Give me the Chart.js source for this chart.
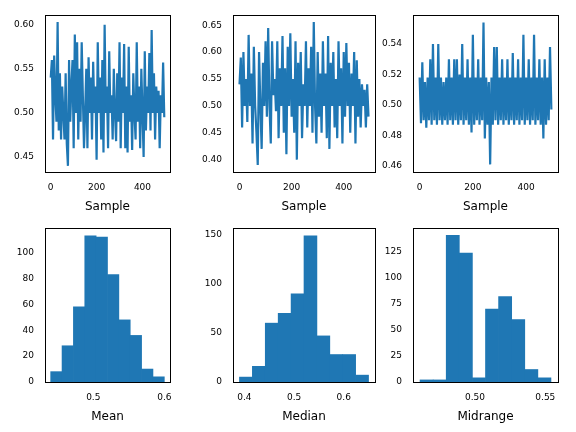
<!DOCTYPE html>
<html>
<head>
<meta charset="utf-8">
<script src="https://cdn.jsdelivr.net/npm/chart.js@4"></script>
<style>
  body { margin: 0; background: #fff; }
  #wrap { position: relative; width: 576px; height: 432px; }
  .cell { position: absolute; }
</style>
</head>
<body>
<div id="wrap"></div>
<script>
// sample series, one value every 5 samples (x = 0..495)
const meanSeries = [0.54,0.56,0.47,0.565,0.52,0.49,0.603,0.48,0.545,0.47,0.53,0.5,0.47,0.545,0.465,0.44,0.56,0.49,0.53,0.56,0.46,0.589,0.5,0.58,0.47,0.55,0.49,0.58,0.52,0.46,0.5,0.55,0.46,0.563,0.5,0.54,0.47,0.558,0.5,0.53,0.447,0.58,0.5,0.54,0.47,0.56,0.455,0.6,0.5,0.53,0.46,0.57,0.5,0.52,0.47,0.55,0.5,0.468,0.545,0.49,0.58,0.46,0.54,0.5,0.578,0.46,0.53,0.455,0.575,0.49,0.52,0.458,0.545,0.5,0.47,0.58,0.49,0.53,0.46,0.55,0.5,0.45,0.57,0.48,0.53,0.5,0.568,0.48,0.594,0.5,0.545,0.47,0.53,0.5,0.525,0.46,0.52,0.5,0.557,0.495];
const medianSeries = [0.54,0.59,0.46,0.6,0.5,0.55,0.47,0.632,0.5,0.56,0.43,0.61,0.5,0.45,0.39,0.6,0.5,0.42,0.58,0.5,0.62,0.48,0.645,0.5,0.43,0.62,0.52,0.55,0.49,0.62,0.44,0.57,0.5,0.63,0.45,0.57,0.41,0.61,0.5,0.635,0.48,0.55,0.45,0.62,0.4,0.58,0.5,0.6,0.44,0.54,0.5,0.62,0.46,0.57,0.5,0.61,0.45,0.656,0.5,0.43,0.6,0.48,0.56,0.45,0.62,0.5,0.56,0.44,0.63,0.42,0.58,0.5,0.6,0.46,0.55,0.44,0.62,0.5,0.57,0.43,0.6,0.48,0.617,0.5,0.58,0.45,0.56,0.5,0.6,0.43,0.585,0.48,0.55,0.46,0.54,0.5,0.53,0.46,0.54,0.48];
const midrangeSeries = [0.518,0.488,0.528,0.49,0.515,0.485,0.518,0.49,0.53,0.487,0.54,0.49,0.518,0.487,0.54,0.49,0.518,0.487,0.515,0.49,0.518,0.487,0.53,0.49,0.518,0.487,0.53,0.49,0.53,0.487,0.52,0.49,0.54,0.487,0.518,0.49,0.53,0.487,0.518,0.482,0.546,0.487,0.518,0.49,0.53,0.487,0.518,0.49,0.554,0.478,0.518,0.487,0.515,0.461,0.518,0.487,0.538,0.49,0.538,0.487,0.518,0.49,0.53,0.487,0.518,0.49,0.53,0.487,0.518,0.49,0.534,0.487,0.518,0.49,0.53,0.487,0.518,0.49,0.546,0.487,0.518,0.49,0.53,0.487,0.518,0.49,0.546,0.487,0.518,0.49,0.53,0.487,0.518,0.478,0.53,0.487,0.518,0.49,0.538,0.497];

// histograms: bin edges and counts
const meanEdges = [0.44,0.456,0.472,0.488,0.504,0.52,0.536,0.552,0.568,0.584,0.6];
const meanCounts = [8,28,58,113,112,83,48,36,10,4];
const medianEdges = [0.39,0.416,0.442,0.468,0.494,0.52,0.546,0.572,0.598,0.624,0.65];
const medianCounts = [5,16,60,70,90,149,47,28,28,7];
const midEdges = [0.461,0.4703,0.4796,0.4889,0.4982,0.5075,0.5168,0.5261,0.5354,0.5447,0.554];
const midCounts = [2,2,141,124,4,70,82,60,12,4];

const BLUE = "#1f77b4";
const FONT = "'DejaVu Sans', sans-serif";

const boxPlugin = {
  id: "box",
  afterDraw(chart) {
    const a = chart.chartArea, c = chart.ctx;
    c.save();
    c.strokeStyle = "#000";
    c.lineWidth = 1;
    c.strokeRect(Math.round(a.left) + 0.5, Math.round(a.top) + 0.5, Math.round(a.right - a.left), Math.round(a.bottom - a.top));
    c.restore();
  }
};

function makeCell(left, top, w, h) {
  const d = document.createElement("div");
  d.className = "cell";
  d.style.left = left + "px";
  d.style.top = top + "px";
  d.style.width = w + "px";
  d.style.height = h + "px";
  const cv = document.createElement("canvas");
  d.appendChild(cv);
  document.getElementById("wrap").appendChild(d);
  return cv;
}

function axes(xmin, xmax, xticks, ymin, ymax, yticks, title, yDigits, xDigits, xh) {
  return {
    x: {
      type: "linear", min: xmin, max: xmax, offset: false,
      grid: { display: false, offset: false }, border: { display: false },
      afterBuildTicks: s => { s.ticks = xticks.map(v => ({ value: v })); },
      afterFit: s => { s.height = xh; },
      ticks: { color: "#000", font: { family: FONT, size: 9 }, maxRotation: 0, padding: 2,
               callback: v => xDigits === null ? v : v.toFixed(xDigits) },
      title: { display: true, text: title, color: "#000", font: { family: FONT, size: 12 }, padding: 2 }
    },
    y: {
      min: ymin, max: ymax,
      grid: { display: false }, border: { display: false },
      afterBuildTicks: s => { s.ticks = yticks.map(v => ({ value: v })); },
      afterFit: s => { s.width = 45; },
      ticks: { color: "#000", font: { family: FONT, size: 9 }, padding: 3,
               callback: v => yDigits === null ? v : v.toFixed(yDigits) }
    }
  };
}

const common = {
  responsive: true, maintainAspectRatio: false, animation: false,
  plugins: { legend: { display: false }, tooltip: { enabled: false } }
};

const cols = [[0, 176], [188, 193], [368, 196]];

function lineChart(col, series, ymin, ymax, yticks) {
  const cv = makeCell(cols[col][0], 0, cols[col][1], 216);
  new Chart(cv, {
    type: "line",
    data: { datasets: [{ data: series.map((v, i) => ({ x: i * 5, y: v })), borderColor: BLUE,
      borderWidth: 2.2, pointRadius: 0, tension: 0 }] },
    options: Object.assign({}, common, {
      layout: { padding: { top: 15, right: 6, left: 0, bottom: 0 } },
      scales: axes(-25, 520, [0, 200, 400], ymin, ymax, yticks, "Sample", 2, null, 44)
    }),
    plugins: [boxPlugin]
  });
}

function histChart(col, edges, counts, xmin, xmax, xticks, xDigits, ymax, yticks, title) {
  const cv = makeCell(cols[col][0], 216, cols[col][1], 216);
  const pts = counts.map((c, i) => ({ x: (edges[i] + edges[i + 1]) / 2, y: c }));
  new Chart(cv, {
    type: "bar",
    data: { datasets: [{ data: pts, backgroundColor: BLUE, barPercentage: 1.0, categoryPercentage: 1.0 }] },
    options: Object.assign({}, common, {
      layout: { padding: { top: 12, right: 6, left: 0, bottom: 6 } },
      scales: axes(xmin, xmax, xticks, 0, ymax, yticks, title, null, xDigits, 44)
    }),
    plugins: [boxPlugin]
  });
}

lineChart(0, meanSeries, 0.433, 0.611, [0.45, 0.5, 0.55, 0.6]);
lineChart(1, medianSeries, 0.377, 0.669, [0.4, 0.45, 0.5, 0.55, 0.6, 0.65]);
lineChart(2, midrangeSeries, 0.456, 0.559, [0.46, 0.48, 0.5, 0.52, 0.54]);

histChart(0, meanEdges, meanCounts, 0.432, 0.608, [0.5, 0.6], 1, 119, [0, 20, 40, 60, 80, 100], "Mean");
histChart(1, medianEdges, medianCounts, 0.377, 0.663, [0.4, 0.5, 0.6], 1, 157, [0, 50, 100, 150], "Median");
histChart(2, midEdges, midCounts, 0.456, 0.559, [0.5, 0.55], 2, 148, [0, 25, 50, 75, 100, 125], "Midrange");
</script>
</body>
</html>
